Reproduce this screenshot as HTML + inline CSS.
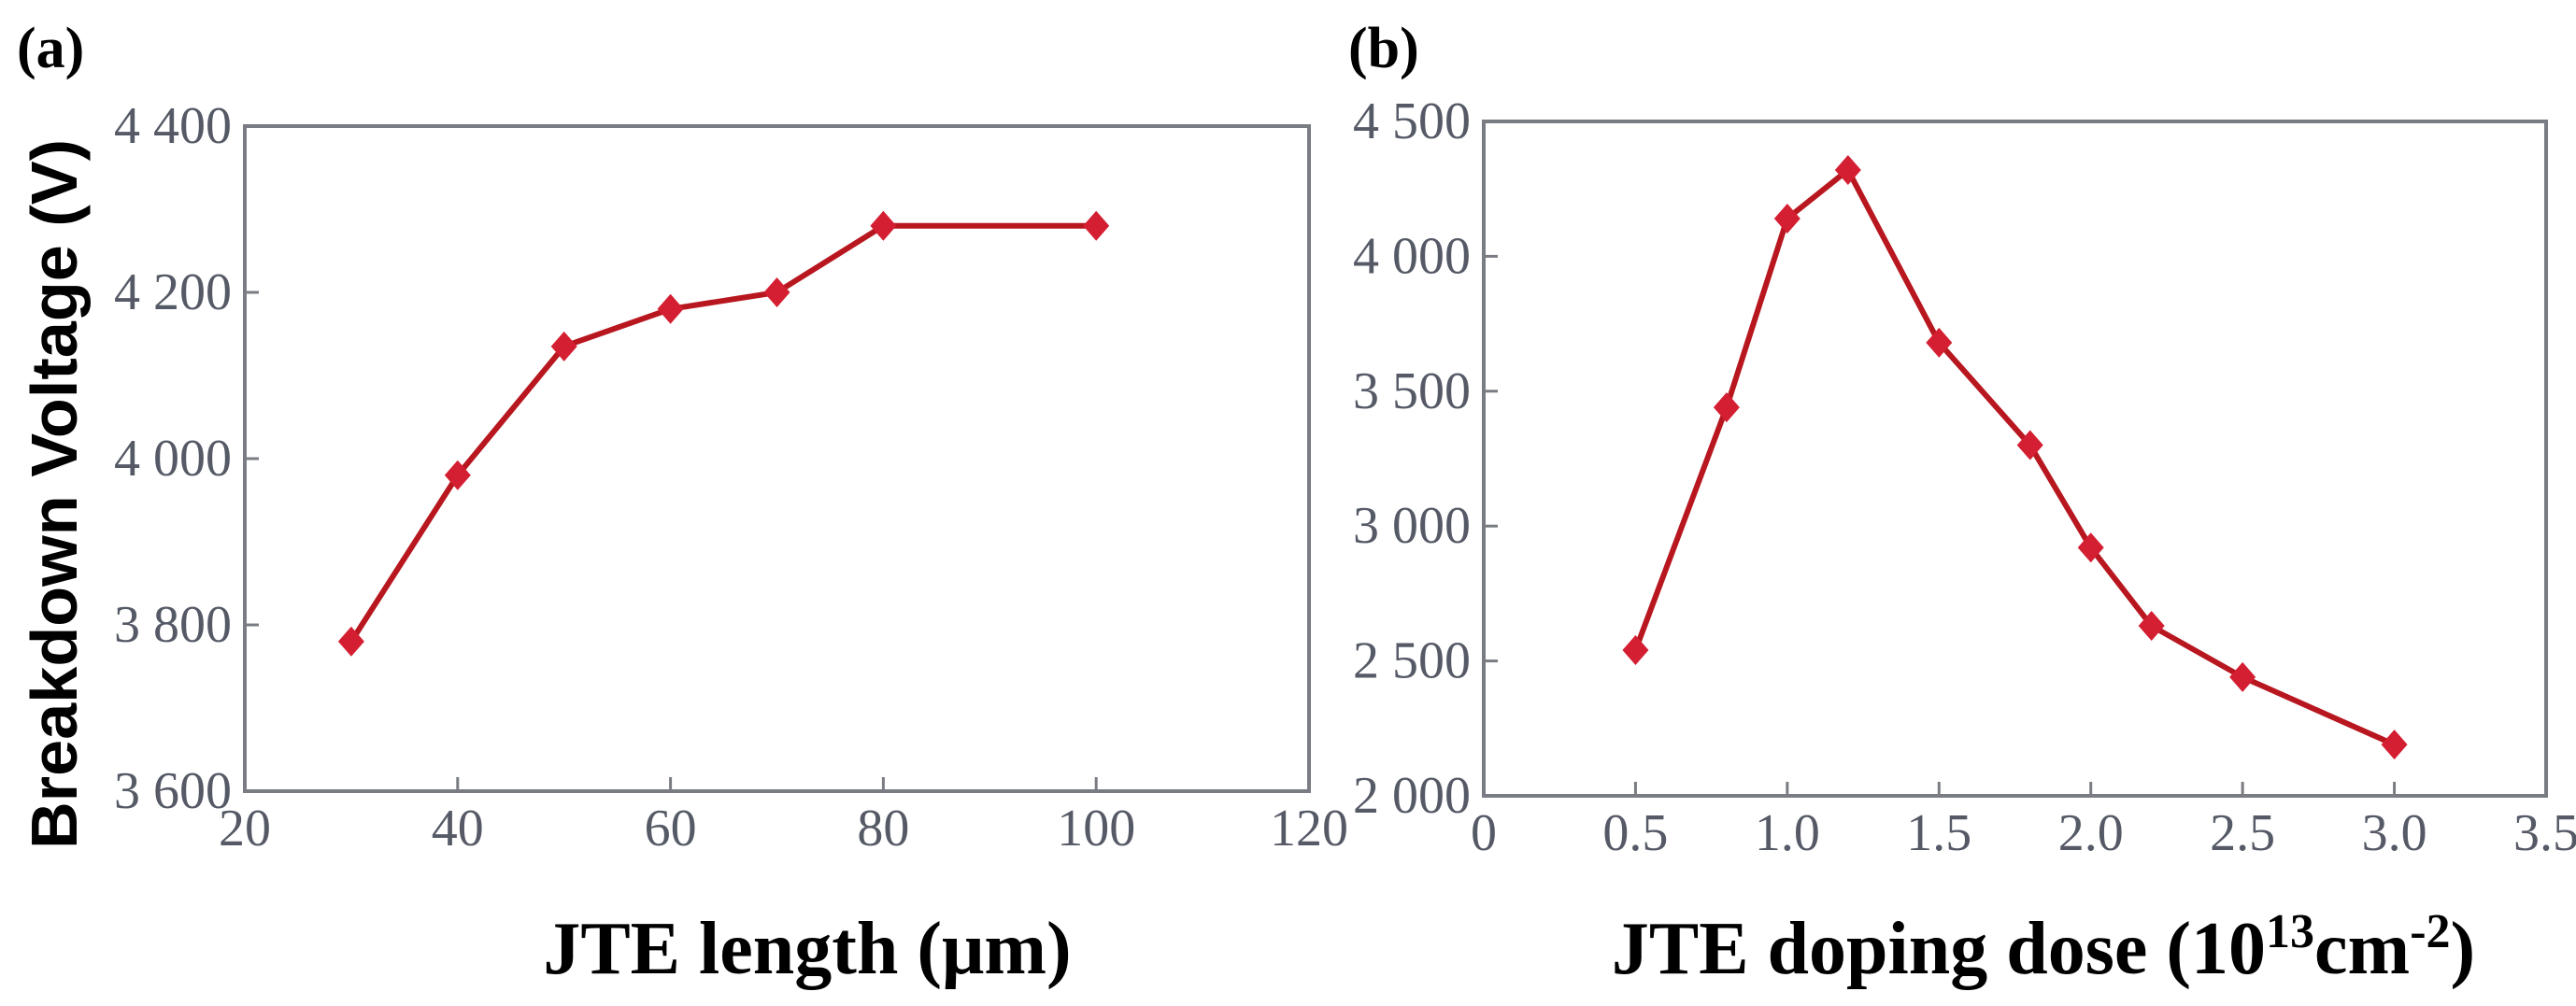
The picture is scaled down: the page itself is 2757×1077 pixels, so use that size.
<!DOCTYPE html>
<html><head><meta charset="utf-8"><style>
html,body{margin:0;padding:0;background:#fff;}
svg{display:block;}
.tick{font-family:"Liberation Serif",serif;font-size:56px;fill:#555a66;}
.ttl{font-family:"Liberation Serif",serif;font-weight:bold;fill:#000;}
</style></head><body>
<svg id="fig" width="2757" height="1077" viewBox="0 0 2757 1077" xmlns="http://www.w3.org/2000/svg">
<text x="18" y="72" class="ttl" font-size="62">(a)</text>
<text x="1443" y="72" class="ttl" font-size="62">(b)</text>
<text transform="translate(82,529) rotate(-90)" text-anchor="middle" font-family="Liberation Sans, sans-serif" font-weight="bold" font-size="70" textLength="760" lengthAdjust="spacingAndGlyphs">Breakdown Voltage  (V)</text>
<text x="864" y="1042" text-anchor="middle" class="ttl" font-size="80">JTE length (μm)</text>
<text x="2187" y="1042" text-anchor="middle" class="ttl" font-size="80">JTE doping dose (10<tspan font-size="52" dy="-28">13</tspan><tspan dy="28">cm</tspan><tspan font-size="52" dy="-28">-2</tspan><tspan dy="28">)</tspan></text>
<g id="pa"></g>
<g id="pb"></g>
</svg>
<script>
const aX = [30,40,50,60,70,80,100];
const aY = [3780,3980,4135,4180,4200,4280,4280];
const aXTicks = [20,40,60,80,100,120];
const aYTicks = [3600,3800,4000,4200,4400];
const aYLabels = ["3 600","3 800","4 000","4 200","4 400"];
const bX = [0.5,0.8,1.0,1.2,1.5,1.8,2.0,2.2,2.5,3.0];
const bY = [2540,3440,4140,4320,3680,3300,2920,2630,2440,2190];
const bXTicks = [0,0.5,1.0,1.5,2.0,2.5,3.0,3.5];
const bXLabels = ["0","0.5","1.0","1.5","2.0","2.5","3.0","3.5"];
const bYTicks = [2000,2500,3000,3500,4000,4500];
const bYLabels = ["2 000","2 500","3 000","3 500","4 000","4 500"];
const NS="http://www.w3.org/2000/svg";
function mk(parent,tag,attrs){const e=document.createElementNS(NS,tag);for(const k in attrs)e.setAttribute(k,attrs[k]);parent.appendChild(e);return e;}
function panel(g,cfg){
  const sx=v=>cfg.x0+(v-cfg.xmin)/(cfg.xmax-cfg.xmin)*(cfg.x1-cfg.x0);
  const sy=v=>cfg.y0-(v-cfg.ymin)/(cfg.ymax-cfg.ymin)*(cfg.y0-cfg.y1);
  const box=mk(g,'rect',{x:cfg.x0,y:cfg.y1,width:cfg.x1-cfg.x0,height:cfg.y0-cfg.y1,fill:'none',stroke:'#7a7c84','stroke-width':4});
  
  
  cfg.yt.forEach((v,i)=>{
    const y=sy(v);
    const t=mk(g,'line',{x1:cfg.x0,x2:cfg.x0+15,y1:y,y2:y,stroke:'#7a7c84','stroke-width':3});
    
    
    const l=mk(g,'text',{x:cfg.x0-14,y:y+18,'text-anchor':'end',class:'tick'});
    l.textContent=cfg.yl[i];
    
    
  });
  cfg.xt.forEach((v,i)=>{
    const x=sx(v);
    const t=mk(g,'line',{x1:x,x2:x,y1:cfg.y0,y2:cfg.y0-15,stroke:'#7a7c84','stroke-width':3});
    
    
    const l=mk(g,'text',{x:x,y:cfg.y0+58,'text-anchor':'middle',class:'tick'});
    l.textContent=cfg.xl[i];
    
    
  });
  const pts=cfg.xs.map((v,i)=>sx(v)+','+sy(cfg.ys[i])).join(' ');
  const pl=mk(g,'polyline',{points:pts,fill:'none',stroke:'#b8171f','stroke-width':6,'stroke-linejoin':'round'});
  
  
  cfg.xs.forEach((v,i)=>{
    const x=sx(v),y=sy(cfg.ys[i]);
    const m=mk(g,'polygon',{points:`${x},${y-16} ${x+14},${y} ${x},${y+16} ${x-14},${y}`,fill:'#d41f32'});
    
    
    const c=mk(g,'circle',{cx:x,cy:y,r:10,fill:'#d41f32'});
    
    
  });
}
panel(document.getElementById('pa'),{x0:262,x1:1401,y0:847,y1:135,xmin:20,xmax:120,ymin:3600,ymax:4400,
  xs:aX,ys:aY,xt:aXTicks,xl:aXTicks.map(String),yt:aYTicks,yl:aYLabels});
panel(document.getElementById('pb'),{x0:1588,x1:2725,y0:852,y1:130,xmin:0,xmax:3.5,ymin:2000,ymax:4500,
  xs:bX,ys:bY,xt:bXTicks,xl:bXLabels,yt:bYTicks,yl:bYLabels});
</script>
</body></html>
